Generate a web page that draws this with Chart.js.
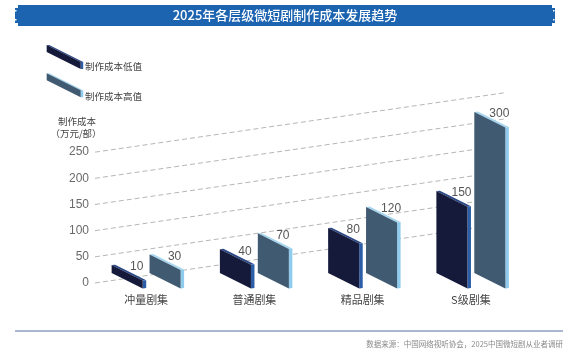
<!DOCTYPE html>
<html><head><meta charset="utf-8">
<script src="https://cdn.jsdelivr.net/npm/chart.js@4.4.1/dist/chart.umd.min.js"></script>
<style>html,body{margin:0;padding:0;background:#fff;}#wrap{width:569px;height:356px;position:relative;}</style>
</head><body><div id="wrap"><canvas id="c" width="569" height="356"></canvas></div>
<script>
const chartTitle = '2025年各层级微短剧制作成本发展趋势';
const categories = ['冲量剧集', '普通剧集', '精品剧集', 'S级剧集'];
const seriesNames = ['制作成本低值', '制作成本高值'];
const lowValues = [10, 40, 80, 150];
const highValues = [30, 70, 120, 300];
const yTicks = [0, 50, 100, 150, 200, 250];
const yTitle = ['制作成本', '（万元/部）'];
const sourceText = '数据来源：中国网络视听协会，2025中国微短剧从业者调研';

const CJK = '"Noto Sans CJK SC", "Noto Sans", sans-serif';
const LAT = '"Liberation Sans", Arial, sans-serif';
const styles = [
  {front: '#151a3b', side: '#2c5ea8', top: '#2b4886'},
  {front: '#3f5a71', side: '#8ecbec', top: '#a6d6ef'}
];
const SLOPE = 0.5;

function slab(ctx, x0, x1, yt, yb, st, dx, dy) {
  const w = x1 - x0, s = SLOPE * w;
  ctx.fillStyle = st.top;
  ctx.beginPath();
  ctx.moveTo(x0, yt); ctx.lineTo(x0 + dx, yt + dy); ctx.lineTo(x1 + dx, yt + s + dy); ctx.lineTo(x1, yt + s);
  ctx.closePath(); ctx.fill();
  ctx.fillStyle = st.side;
  ctx.beginPath();
  ctx.moveTo(x1, yt + s); ctx.lineTo(x1 + dx, yt + s + dy); ctx.lineTo(x1 + dx, yb + s + dy); ctx.lineTo(x1, yb + s);
  ctx.closePath(); ctx.fill();
  ctx.fillStyle = st.front;
  ctx.beginPath();
  ctx.moveTo(x0, yt); ctx.lineTo(x1, yt + s); ctx.lineTo(x1, yb + s); ctx.lineTo(x0, yb);
  ctx.closePath(); ctx.fill();
}

const deco = {
  id: 'deco',
  beforeDraw(chart) {
    const ctx = chart.ctx;
    ctx.save();
    ctx.fillStyle = '#1c64b0';
    ctx.fillRect(18, 5, 534, 21);
    ctx.fillRect(15, 8, 3, 15);
    ctx.fillRect(552, 8, 3, 15);
    ctx.fillStyle = '#fff';
    [[15, 10], [15, 19], [553, 10], [553, 19]].forEach(p => ctx.fillRect(p[0], p[1], 1.5, 1.5));
    ctx.fillStyle = '#ffffff';
    ctx.font = '500 13px ' + CJK;
    ctx.textAlign = 'center'; ctx.textBaseline = 'middle';
    ctx.fillText(chartTitle, 285, 15.5);
    const legY = [45, 73.3], legT = [66, 96];
    seriesNames.forEach((n, i) => {
      slab(ctx, 46.7, 80.7, legY[i], legY[i] + 7, styles[i], 2.5, 0);
      ctx.fillStyle = '#444';
      ctx.font = '9.5px ' + CJK;
      ctx.textAlign = 'left'; ctx.textBaseline = 'middle';
      ctx.fillText(n, 85, legT[i]);
    });
    ctx.fillStyle = '#444';
    ctx.font = '9.5px ' + CJK;
    ctx.textAlign = 'center'; ctx.textBaseline = 'middle';
    ctx.fillText(yTitle[0], 77, 121);
    ctx.fillText(yTitle[1], 76, 133);
    ctx.strokeStyle = '#8e9fc2'; ctx.lineWidth = 1.5;
    ctx.beginPath(); ctx.moveTo(15, 331); ctx.lineTo(563, 331); ctx.stroke();
    ctx.fillStyle = '#8a8a8a';
    ctx.font = '7.5px ' + CJK;
    ctx.textAlign = 'right';
    ctx.fillText(sourceText, 563, 344);
    ctx.restore();
  },
  beforeDatasetsDraw(chart) {
    const ctx = chart.ctx, ys = chart.scales.y;
    ctx.save();
    ctx.strokeStyle = '#a3a3a3'; ctx.lineWidth = 0.8; ctx.setLineDash([5, 3]);
    yTicks.forEach(v => {
      const py = ys.getPixelForValue(v), x0 = 95, x1 = 505;
      ctx.beginPath(); ctx.moveTo(x0, py); ctx.lineTo(x1, py - 0.145 * (x1 - x0)); ctx.stroke();
    });
    ctx.restore();
  },
  afterDatasetsDraw(chart) {
    const ctx = chart.ctx;
    ctx.save();
    chart.data.datasets.forEach((ds, di) => {
      chart.getDatasetMeta(di).data.forEach((el, i) => {
        const p = el.getProps(['x', 'y', 'base', 'width'], true);
        const x0 = p.x - p.width / 2, x1 = p.x + p.width / 2;
        slab(ctx, x0, x1, p.y, p.base, styles[di], 3.5, -0.4);
        ctx.fillStyle = '#555';
        ctx.font = '12px ' + LAT;
        ctx.textAlign = 'center'; ctx.textBaseline = 'middle';
        ctx.fillText(String(ds.data[i]), x1 - 6, p.y + 2);
      });
    });
    ctx.restore();
  }
};

new Chart(document.getElementById('c'), {
  type: 'bar',
  data: {
    labels: categories,
    datasets: [
      {label: seriesNames[0], data: lowValues, yAxisID: 'yb', base: -5, backgroundColor: 'rgba(0,0,0,0)', categoryPercentage: 0.70, barPercentage: 0.82},
      {label: seriesNames[1], data: highValues, yAxisID: 'yb', base: -5, backgroundColor: 'rgba(0,0,0,0)', categoryPercentage: 0.70, barPercentage: 0.82}
    ]
  },
  options: {
    responsive: false,
    animation: false,
    devicePixelRatio: 1,
    layout: {padding: {top: 126, right: 44, left: 0, bottom: 0}},
    plugins: {legend: {display: false}, tooltip: {enabled: false}, title: {display: false}},
    scales: {
      x: {
        grid: {display: false, drawTicks: false}, border: {display: false},
        ticks: {font: {family: CJK, size: 11}, color: '#444', padding: 10},
        afterFit(s) { s.height = 73; }
      },
      y: {
        position: 'left', min: 0, max: 300,
        grid: {display: false, drawTicks: false}, border: {display: false},
        ticks: {stepSize: 50, padding: 3, font: {family: LAT, size: 12}, color: '#6a6a6a',
          callback: v => yTicks.includes(v) ? String(v) : ''},
        afterFit(s) { s.width = 92; }
      },
      yb: {display: false, min: -24, max: 273.3}
    }
  },
  plugins: [deco]
});
</script></body></html>
